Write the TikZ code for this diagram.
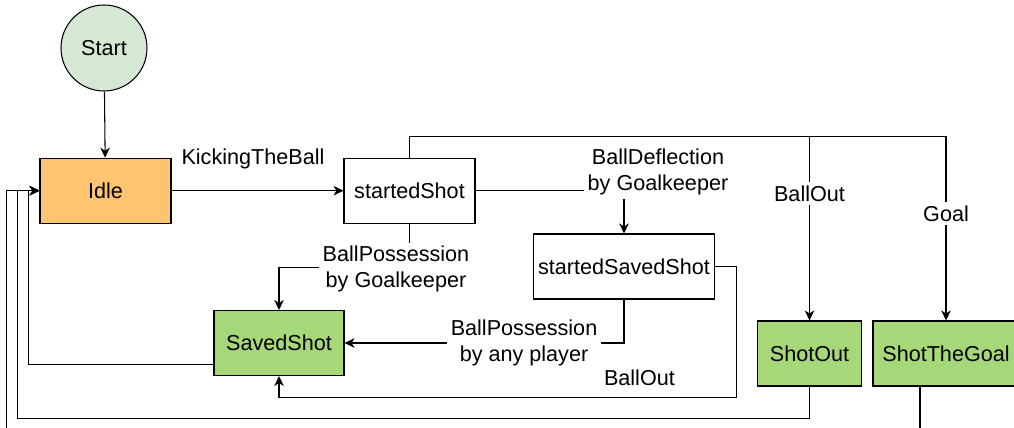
\documentclass[tikz,border=0pt]{standalone}
\usepackage{fontspec}
\setmainfont{Liberation Sans}
\usetikzlibrary{arrows.meta,calc}
\definecolor{startgreen}{HTML}{D5E8D4}
\definecolor{idleorange}{HTML}{FFC470}
\definecolor{shotgreen}{HTML}{A6D87A}
\begin{document}
\begin{tikzpicture}[x=0.02cm,y=-0.02cm,
  every node/.style={font=\fontsize{12.3}{14.8}\selectfont},
  state/.style={draw=black,line width=0.6pt,minimum height=1.3cm,inner sep=0pt},
  lab/.style={fill=white,inner sep=2pt,align=center},
  arr/.style={draw=black,line width=0.6pt,-{Stealth[length=0.2cm,width=0.19cm,inset=0.06cm]}}]
\clip (0,0) rectangle (1014,428);
% states
\node[circle,draw=black,line width=0.6pt,fill=startgreen,minimum size=1.72cm] (start) at (104,48) {Start};
\node[state,fill=idleorange,minimum width=2.62cm] (idle) at (105.5,190.7) {Idle};
\node[state,fill=white,minimum width=2.62cm] (shot) at (409.5,190.7) {startedShot};
\node[state,fill=white,minimum width=3.62cm] (savedshot) at (624,266.5) {startedSavedShot};
\node[state,fill=shotgreen,minimum width=2.6cm] (saved) at (279,343) {SavedShot};
\node[state,fill=shotgreen,minimum width=2.08cm] (out) at (809.5,353.5) {ShotOut};
\node[state,fill=shotgreen,minimum width=2.92cm] (goal) at (946,353.5) {ShotTheGoal};
% transitions
\draw[arr] (start) -- (idle);
\draw[arr] (idle) -- node[midway,xshift=-0.09cm,yshift=0.63cm] {KickingTheBall} (shot);
\draw[arr] (shot.east) -| node[lab,pos=0.5,xshift=0.68cm,yshift=0.37cm] {BallDeflection\\by Goalkeeper} (savedshot.north);
\draw[arr] (shot.south) -- ++(0,43.5) -| node[lab,pos=0,xshift=-0.27cm,yshift=-0.04cm] {BallPossession\\by Goalkeeper} (saved.north);
\draw[arr] (savedshot.south) |- node[lab,pos=0.5,xshift=-2cm] {BallPossession\\by any player} (saved.east);
\draw[arr] (savedshot.east) -- ++(21.4,0) |- node[pos=0.606,yshift=0.39cm] {BallOut} ($(saved.south)+(0,21.2)$) -- (saved.south);
\draw[arr] (shot.north) -- ++(0,-21.5) -| node[lab,pos=0.656] {BallOut} (out.north);
\draw[arr] (shot.north) -- ++(0,-21.5) -| node[lab,pos=0.71] {Goal} (goal.north);
% back to Idle
\draw[arr] ($(saved.west)+(0,21.3)$) -| ($(idle.west)+(-10.7,0)$) -- (idle.west);
\draw[arr] (out.south) -- ++(0,32.3) -| ($(idle.west)+(-21.7,0)$) -- (idle.west);
\draw[arr] ($(goal.south)+(-26,0)$) -- ++(0,60) -| ($(idle.west)+(-32.7,0)$) -- (idle.west);
\end{tikzpicture}
\end{document}
